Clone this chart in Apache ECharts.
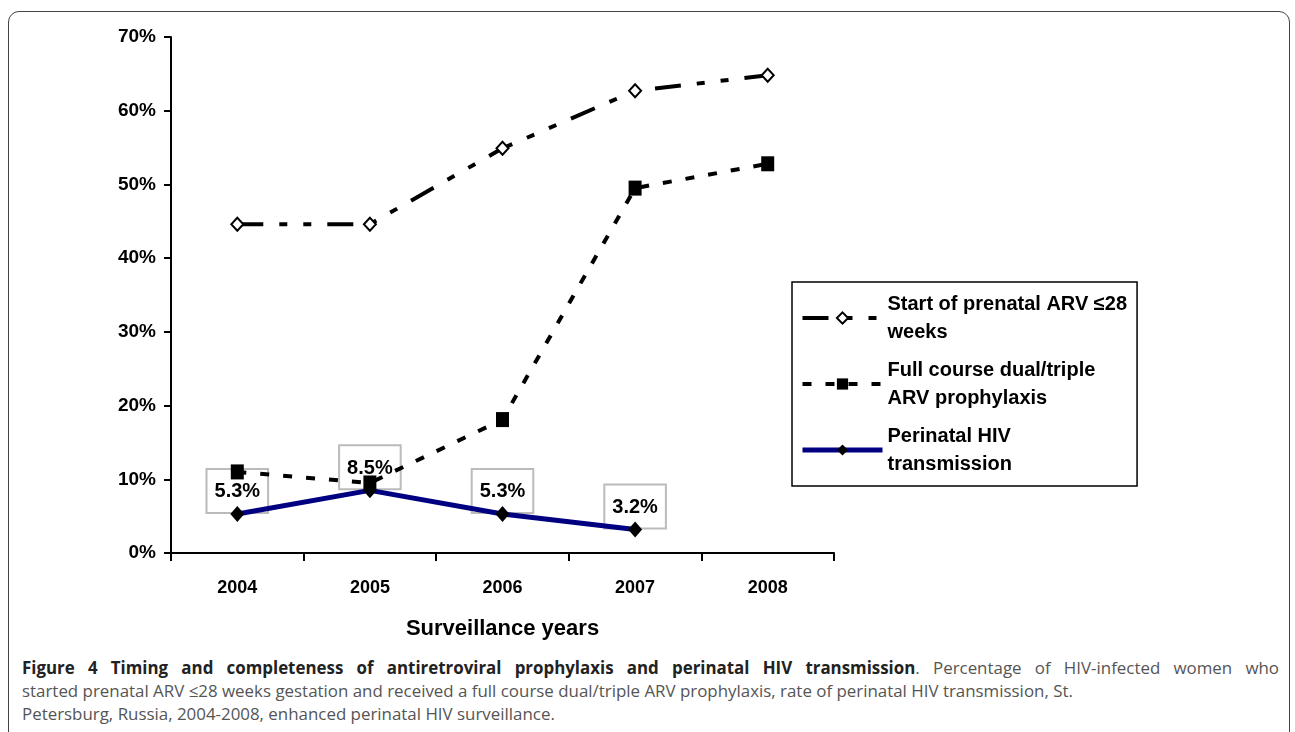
<!DOCTYPE html>
<html>
<head>
<meta charset="utf-8">
<script src="https://cdn.jsdelivr.net/npm/echarts@6/dist/echarts.min.js"></script>
<style>
	html, body { margin: 0; padding: 0; background: #fff; }
	.figure-frame {
		position: absolute;
		left: 8px; top: 11px;
		width: 1282px; height: 760px;
		border: 1.5px solid #444;
		border-radius: 11px;
		box-sizing: border-box;
	}
	#chart {
		position: absolute;
		left: 0; top: 0;
		width: 1295px; height: 650px;
	}
	.caption {
		position: absolute;
		left: 22px; top: 656px;
		width: 1257px;
		font-family: "Open Sans", "DejaVu Sans", sans-serif;
		font-size: 16.9px;
		line-height: 23px;
		color: #555;
		white-space: nowrap;
	}
	.caption .justified { text-align: justify; text-align-last: justify; }
	.caption b { color: #222; font-weight: 700; }
</style>
</head>
<body>
<div class="figure-frame"></div>
<div id="chart"></div>
<div class="caption">
	<div class="justified" style="white-space: normal"><b>Figure 4 Timing and completeness of antiretroviral prophylaxis and perinatal HIV transmission</b>. Percentage of HIV-infected women who</div>
	<div>started prenatal ARV ≤28 weeks gestation and received a full course dual/triple ARV prophylaxis, rate of perinatal HIV transmission, St.</div>
	<div>Petersburg, Russia, 2004-2008, enhanced perinatal HIV surveillance.</div>
</div>
<script>
// values in percent
const years = ['2004', '2005', '2006', '2007', '2008'];
const startPrenatal = [44.6, 44.6, 54.9, 62.7, 64.8];
const fullCourse = [11.0, 9.5, 18.1, 49.5, 52.8];
const perinatalHiv = [5.3, 8.5, 5.3, 3.2, null];
const seriesNames = [
	'Start of prenatal ARV ≤28\nweeks',
	'Full course dual/triple\nARV prophylaxis',
	'Perinatal HIV\ntransmission'
];

const font = '"Liberation Sans", Arial, sans-serif';
const chart = echarts.init(document.getElementById('chart'));

chart.setOption({
	animation: false,
	backgroundColor: 'transparent',
	grid: { left: 171, right: 461, top: 37, bottom: 97, containLabel: false },
	legend: {
		orient: 'vertical',
		left: 792,
		top: 282,
		width: 399,
		height: 201,
		padding: [8, 10, 8, 8],
		itemGap: 10,
		itemWidth: 80,
		itemHeight: 14,
		borderColor: '#000',
		borderWidth: 1.5,
		data: [
			{ name: seriesNames[0], lineStyle: { width: 4 } },
			{ name: seriesNames[1], lineStyle: { width: 4 } },
			{ name: seriesNames[2], lineStyle: { width: 5 } }
		],
		textStyle: { fontFamily: font, fontSize: 20, fontWeight: 'bold', color: '#000', lineHeight: 28 }
	},
	xAxis: {
		type: 'category',
		data: years,
		boundaryGap: true,
		name: 'Surveillance years',
		nameLocation: 'middle',
		nameGap: 65,
		nameMoveOverlap: false,
		nameTextStyle: { fontFamily: font, fontSize: 22, fontWeight: 'bold', color: '#000' },
		axisLine: { lineStyle: { color: '#000', width: 2 } },
		axisTick: { show: true, length: 8, lineStyle: { color: '#000', width: 2 } },
		axisLabel: { fontFamily: font, fontSize: 18, fontWeight: 'bold', color: '#000', margin: 26 },
		splitLine: { show: false }
	},
	yAxis: {
		type: 'value',
		min: 0,
		max: 70,
		interval: 10,
		axisLine: { show: true, lineStyle: { color: '#000', width: 2 } },
		axisTick: { show: true, length: 7, lineStyle: { color: '#000', width: 2 } },
		axisLabel: { fontFamily: font, fontSize: 19, fontWeight: 'bold', color: '#000', margin: 15, formatter: v => v + '%' },
		splitLine: { show: false }
	},
	series: [
		{
			// label boxes only, drawn underneath the lines
			name: 'value labels',
			type: 'line',
			data: perinatalHiv,
			symbol: 'diamond',
			symbolSize: [14, 16],
			itemStyle: { color: 'rgba(0,0,0,0)' },
			lineStyle: { color: 'rgba(0,0,0,0)', width: 0 },
			label: {
				show: true,
				position: 'top',
				distance: -6,
				formatter: p => p.value.toFixed(1) + '%',
				fontFamily: font,
				fontSize: 20,
				fontWeight: 'bold',
				color: '#000',
				backgroundColor: '#fff',
				borderColor: '#bbb',
				borderWidth: 2,
				padding: [12, 7, 10, 7]
			},
			silent: true,
			z: 1
		},
		{
			name: seriesNames[0],
			type: 'line',
			data: startPrenatal,
			symbol: 'diamond',
			symbolSize: [12, 13],
			itemStyle: { color: '#fff', borderColor: '#000', borderWidth: 2 },
			lineStyle: { color: '#000', width: 4, type: [26, 16, 8, 16, 8, 16] },
			z: 3
		},
		{
			name: seriesNames[1],
			type: 'line',
			data: fullCourse,
			symbol: 'rect',
			symbolSize: [13, 15],
			itemStyle: { color: '#000' },
			lineStyle: { color: '#000', width: 4, type: [9, 14] },
			z: 4
		},
		{
			name: seriesNames[2],
			type: 'line',
			data: perinatalHiv,
			symbol: 'diamond',
			symbolSize: [14, 16],
			itemStyle: { color: '#000' },
			lineStyle: { color: '#000080', width: 5, type: 'solid' },
			z: 5
		}
	]
});
</script>
</body>
</html>
